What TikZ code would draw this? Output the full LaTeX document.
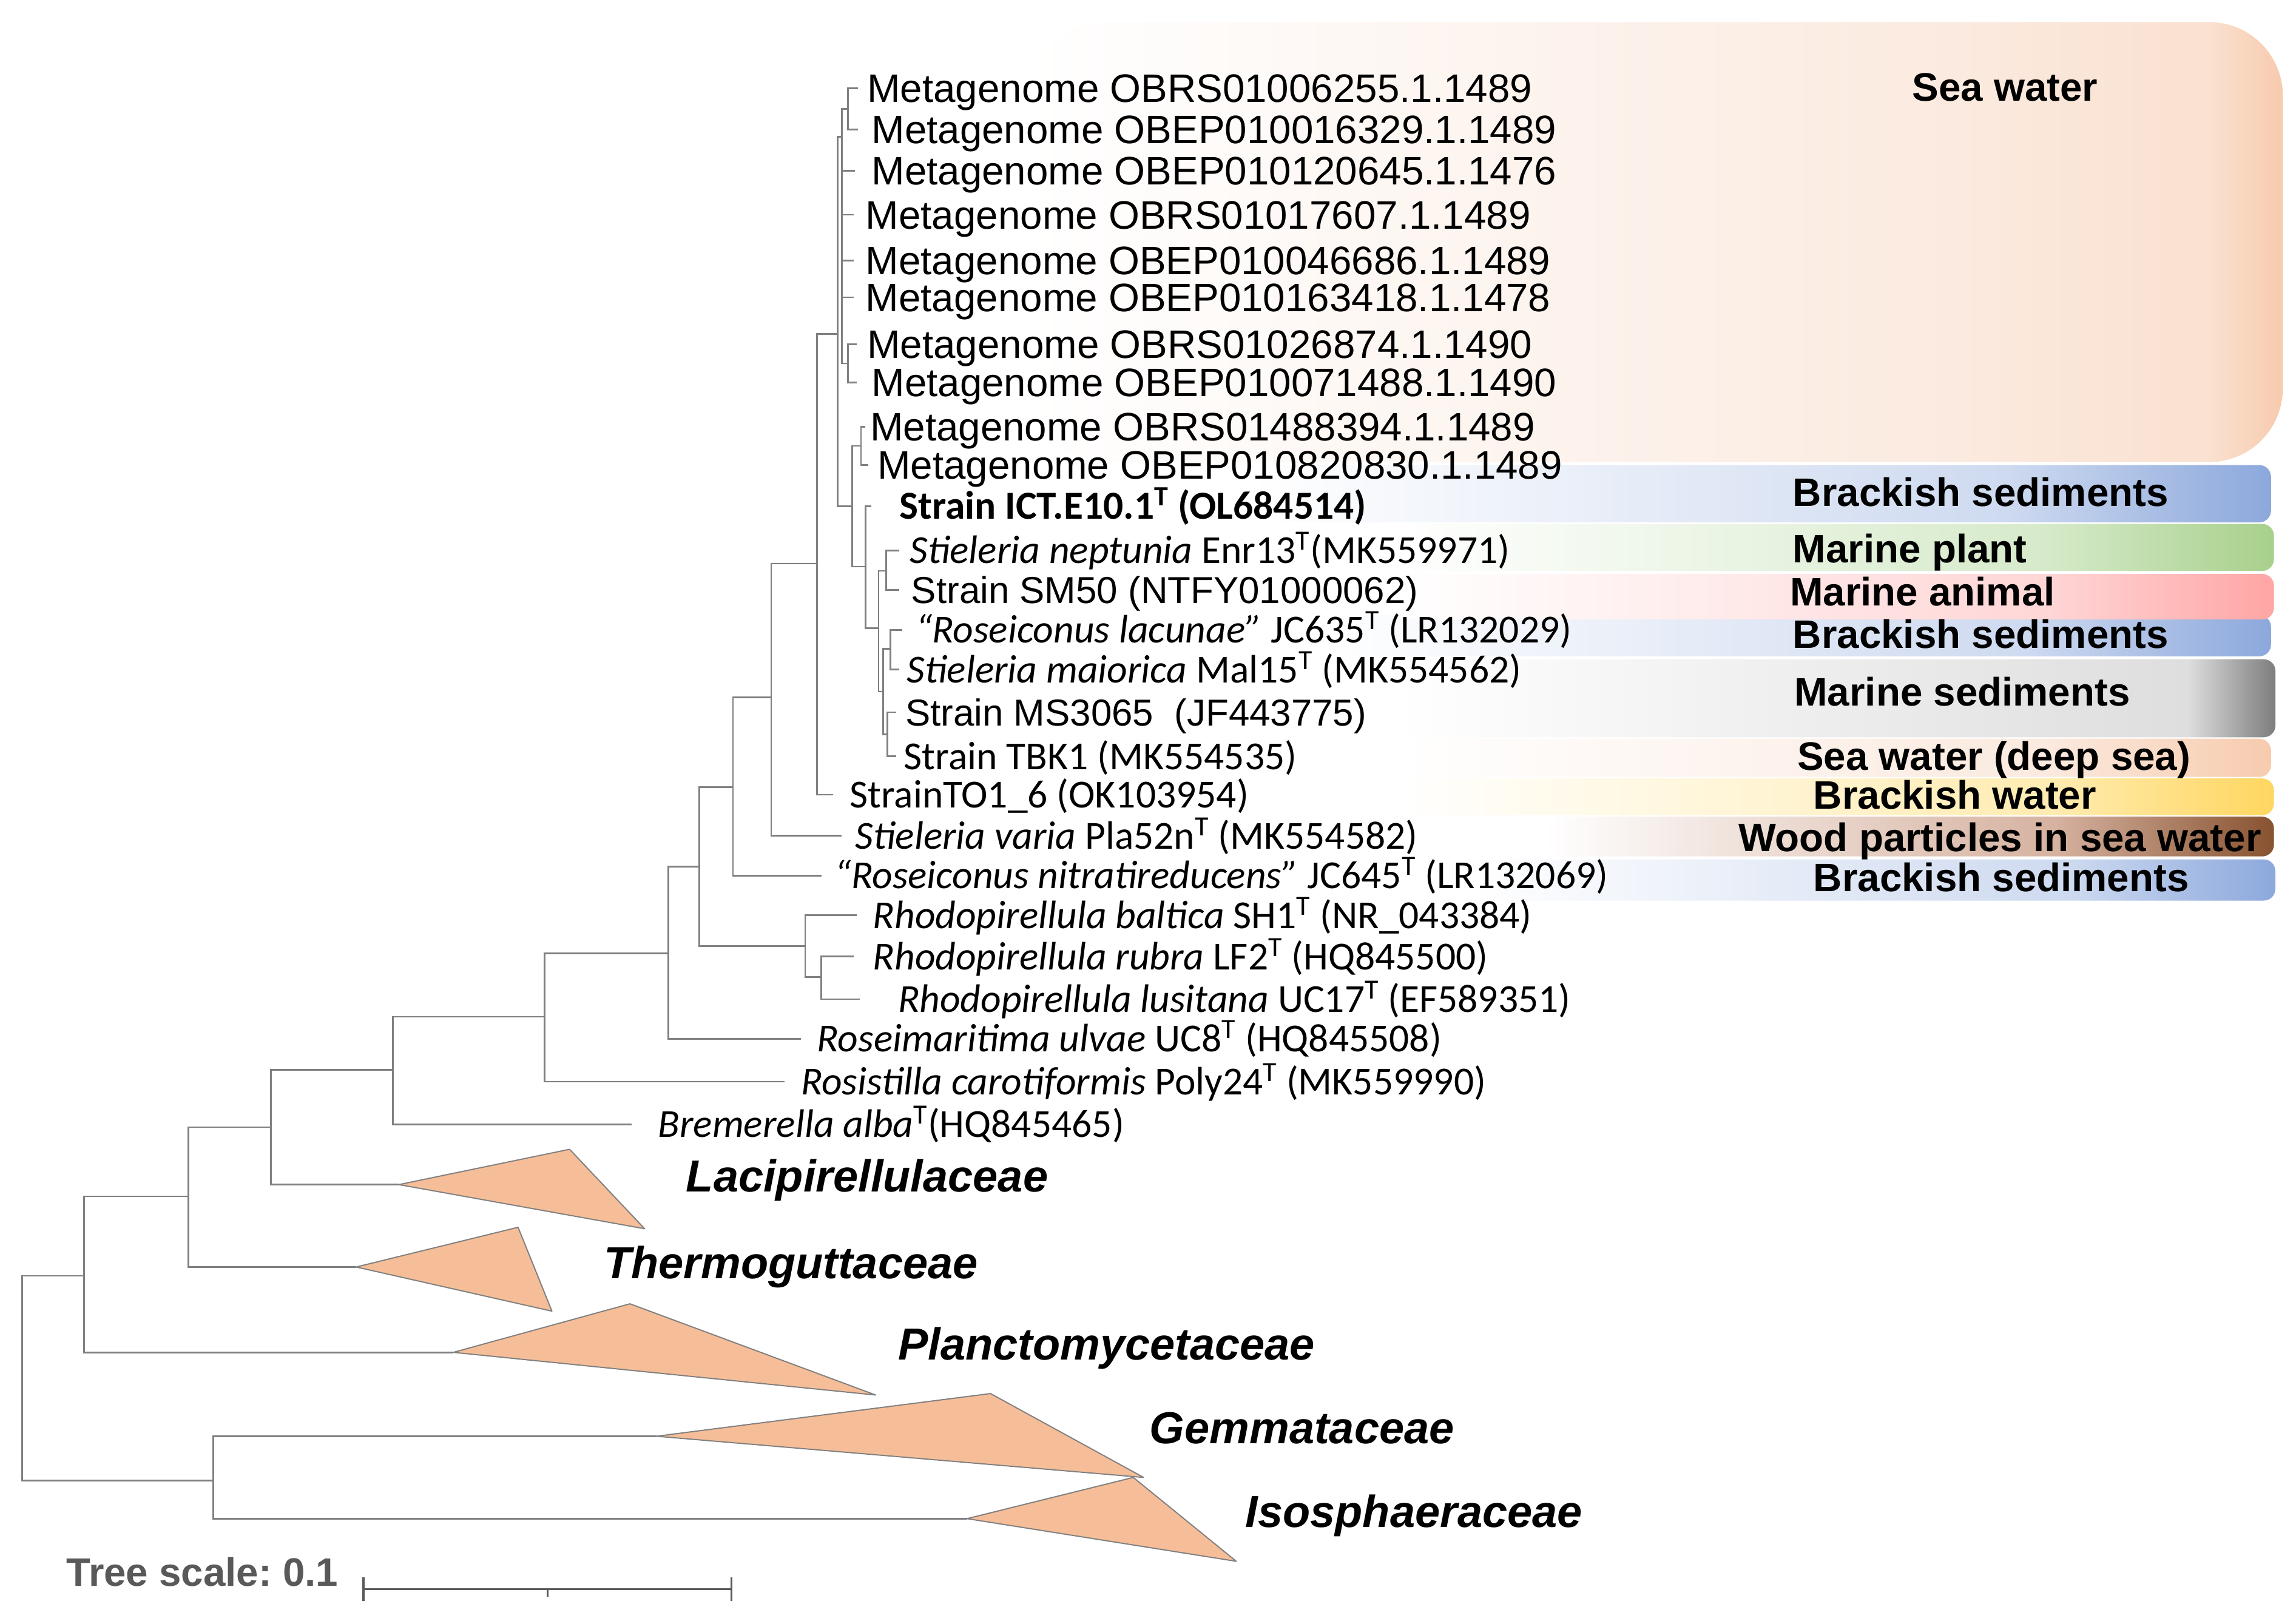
\documentclass[tikz,border=0pt]{standalone}
\usepackage{fontspec}
\setmainfont{Liberation Sans}
\newfontfamily\calibri{Carlito}
\usepackage{tikz}
\usetikzlibrary{positioning, calc}

\definecolor{branchgray}{RGB}{128,128,128}
\definecolor{cladefill}{RGB}{246,190,152}
\definecolor{scalegray}{RGB}{89,89,89}
\definecolor{seaMid}{RGB}{251,234,223}
\definecolor{seaEdge}{RGB}{247,203,174}
\definecolor{blueMid}{RGB}{206,218,240}
\definecolor{blueEdge}{RGB}{140,168,220}
\definecolor{greenMid}{RGB}{214,234,202}
\definecolor{greenEdge}{RGB}{168,208,140}
\definecolor{pinkMid}{RGB}{255,214,214}
\definecolor{pinkEdge}{RGB}{255,165,165}
\definecolor{grayMid}{RGB}{222,222,222}
\definecolor{grayEdge}{RGB}{125,125,125}
\definecolor{yellowMid}{RGB}{255,236,178}
\definecolor{yellowEdge}{RGB}{255,214,96}
\definecolor{brownMid}{RGB}{214,178,160}
\definecolor{brownEdge}{RGB}{135,82,48}

\pgfdeclarehorizontalshading{seaband}{100bp}{color(0bp)=(white); color(25bp)=(white); color(62bp)=(seaMid); color(72bp)=(seaMid!70!seaEdge); color(75bp)=(seaEdge); color(100bp)=(seaEdge)}
\pgfdeclarehorizontalshading{blueband}{100bp}{color(0bp)=(white); color(25bp)=(white); color(62bp)=(blueMid); color(75bp)=(blueEdge); color(100bp)=(blueEdge)}
\pgfdeclarehorizontalshading{greenband}{100bp}{color(0bp)=(white); color(25bp)=(white); color(62bp)=(greenMid); color(75bp)=(greenEdge); color(100bp)=(greenEdge)}
\pgfdeclarehorizontalshading{pinkband}{100bp}{color(0bp)=(white); color(25bp)=(white); color(62bp)=(pinkMid); color(75bp)=(pinkEdge); color(100bp)=(pinkEdge)}
\pgfdeclarehorizontalshading{grayband}{100bp}{color(0bp)=(white); color(25bp)=(white); color(70bp)=(grayMid); color(75bp)=(grayEdge); color(100bp)=(grayEdge)}
\pgfdeclarehorizontalshading{deepband}{100bp}{color(0bp)=(white); color(25bp)=(white); color(62bp)=(seaMid); color(75bp)=(seaEdge); color(100bp)=(seaEdge)}
\pgfdeclarehorizontalshading{yellowband}{100bp}{color(0bp)=(white); color(25bp)=(white); color(62bp)=(yellowMid); color(75bp)=(yellowEdge); color(100bp)=(yellowEdge)}
\pgfdeclarehorizontalshading{brownband}{100bp}{color(0bp)=(white); color(25bp)=(white); color(60bp)=(brownMid); color(75bp)=(brownEdge); color(100bp)=(brownEdge)}

\frenchspacing

\begin{document}
\begin{tikzpicture}[
  x=1pt, y=-1pt,
  branch/.style={draw=branchgray, line width=1.1pt},
  clade/.style={fill=cladefill, draw=gray, line width=0.8pt, line join=round},
  leaf/.style={anchor=base west, inner sep=0pt},
  meta/.style={leaf, yshift=-9.6pt, font=\fontsize{27}{30}\selectfont},
  ari/.style={leaf, yshift=-9.1pt, font=\fontsize{25.5}{30}\selectfont},
  cal/.style={leaf, yshift=-8.8pt, font=\calibri\fontsize{27}{30}\selectfont},
  calbold/.style={leaf, yshift=-8.8pt, font=\calibri\bfseries\fontsize{27}{30}\selectfont},
  family/.style={leaf, yshift=-7pt, font=\fontsize{30.5}{34}\selectfont\bfseries\itshape},
  habitat/.style={leaf, yshift=-9.7pt, font=\fontsize{27}{30}\selectfont\bfseries},
  band/.style={rounded corners=8pt},
  scalebar/.style={draw=scalegray, line width=1.4pt},
]
  \useasboundingbox (0,0) rectangle (1560,1101.5);

  % Habitat bands
  \shade[shading=seaband, rounded corners=50pt] (700,15) rectangle (1551,314);
  \shade[shading=blueband, band] (850,316) rectangle (1543,355);
  \shade[shading=greenband, band] (950,356) rectangle (1545,388);
  \shade[shading=blueband, band] (900,418) rectangle (1543,446);
  \shade[shading=pinkband, band] (950,390) rectangle (1545,421);
  \shade[shading=grayband, band] (950,448) rectangle (1546,501);
  \shade[shading=deepband, band] (950,502) rectangle (1543,528);
  \shade[shading=yellowband, band] (950,529) rectangle (1545,554);
  \shade[shading=brownband, band] (1050,555) rectangle (1545,582);
  \shade[shading=blueband, band] (1000,584) rectangle (1546,612);

  \node[habitat] (hSea) at (1299,59) {Sea water};
  \node[habitat] (hBs1) at (1218,334.5) {Brackish sediments};
  \node[habitat] (hPla) at (1218,372.5) {Marine plant};
  \node[habitat] (hAni) at (1216,402) {Marine animal};
  \node[habitat] (hBs2) at (1218,431) {Brackish sediments};
  \node[habitat] (hMse) at (1219,470) {Marine sediments};
  \node[habitat] (hDee) at (1221,513.5) {Sea water (deep sea)};
  \node[habitat] (hBwa) at (1232,540) {Brackish water};
  \node[habitat] (hWoo) at (1181,569) {Wood particles in sea water};
  \node[habitat] (hBs3) at (1232,596) {Brackish sediments};

  % Metagenome leaves
  \foreach \n/\tx/\lx/\y/\acc in {
    m1/583/589/60/OBRS01006255.1.1489,
    m2/583/592/88/OBEP010016329.1.1489,
    m3/581/592/116/OBEP010120645.1.1476,
    m4/580/588/146/OBRS01017607.1.1489,
    m5/580/588/177/OBEP010046686.1.1489,
    m6/580/588/202/OBEP010163418.1.1478,
    m7/582/589/234/OBRS01026874.1.1490,
    m8/582/592/260/OBEP010071488.1.1490,
    m9/588/591/290/OBRS01488394.1.1489,
    m10/590/596/316/OBEP010820830.1.1489} {
    \coordinate (t\n) at (\tx,\y);
    \node[meta] (\n) at (\lx,\y) {Metagenome \acc};
  }

  % Strain leaves
  \coordinate (tict) at (592,344);
  \node[calbold] (ict) at (611,344) {Strain ICT.E10.1\textsuperscript{T} (OL684514)};
  \coordinate (tnep) at (611,374);
  \node[cal] (nep) at (618,374) {{\itshape Stieleria neptunia} Enr13\textsuperscript{T}(MK559971)};
  \coordinate (tsm) at (611,401);
  \node[ari] (sm) at (619,401) {Strain SM50 (NTFY01000062)};
  \coordinate (tlac) at (613,428);
  \node[cal] (lac) at (622,428) {{\itshape “Roseiconus lacunae”} JC635\textsuperscript{T} (LR132029)};
  \coordinate (tmai) at (611,455);
  \node[cal] (mai) at (616,455) {{\itshape Stieleria maiorica} Mal15\textsuperscript{T} (MK554562)};
  \coordinate (tms) at (609,484);
  \node[ari] (ms) at (615,484) {Strain MS3065~~(JF443775)};
  \coordinate (ttbk) at (609,514);
  \node[cal] (tbk) at (614,514) {Strain TBK1 (MK554535)};
  \coordinate (tto1) at (566,540);
  \node[cal] (to1) at (577,540) {StrainTO1\_6 (OK103954)};
  \coordinate (tvar) at (572,568);
  \node[cal] (var) at (581,568) {{\itshape Stieleria varia} Pla52n\textsuperscript{T} (MK554582)};
  \coordinate (tnit) at (558,595);
  \node[cal] (nit) at (567,595) {{\itshape “Roseiconus nitratireducens”} JC645\textsuperscript{T} (LR132069)};
  \coordinate (tbal) at (582,622);
  \node[cal] (bal) at (593,622) {{\itshape Rhodopirellula baltica} SH1\textsuperscript{T} (NR\_043384)};
  \coordinate (trub) at (580,650);
  \node[cal] (rub) at (593,650) {{\itshape Rhodopirellula rubra} LF2\textsuperscript{T} (HQ845500)};
  \coordinate (tlus) at (584,679);
  \node[cal] (lus) at (610,679) {{\itshape Rhodopirellula lusitana} UC17\textsuperscript{T} (EF589351)};
  \coordinate (tulv) at (544,706);
  \node[cal] (ulv) at (555,706) {{\itshape Roseimaritima ulvae} UC8\textsuperscript{T} (HQ845508)};
  \coordinate (tcar) at (533,735);
  \node[cal] (car) at (544,735) {{\itshape Rosistilla carotiformis} Poly24\textsuperscript{T} (MK559990)};
  \coordinate (tbre) at (429,764);
  \node[cal] (bre) at (447,764) {{\itshape Bremerella alba}\textsuperscript{T}(HQ845465)};

  % Collapsed families
  \coordinate (cLac) at (271,805);
  \coordinate (cThe) at (242,861);
  \coordinate (cPla) at (308,919);
  \coordinate (cGem) at (446,976);
  \coordinate (cIso) at (657,1032);

  % Internal nodes
  \coordinate (nA) at (576,74);
  \coordinate (n78) at (576,247);
  \coordinate (nU) at (572,93);
  \coordinate (n910) at (585,303);
  \coordinate (nNS) at (602,388);
  \coordinate (nLM) at (605,441);
  \coordinate (nMT) at (603,499);
  \coordinate (nS3) at (600,470);
  \coordinate (nS1) at (597,427);
  \coordinate (nICT) at (588,385);
  \coordinate (nM2) at (579,344);
  \coordinate (n569) at (569,227);
  \coordinate (n555) at (555,383);
  \coordinate (n524) at (524,474);
  \coordinate (n498) at (498,535);
  \coordinate (n475) at (475,589);
  \coordinate (nRh) at (547,643);
  \coordinate (nRL) at (558,664);
  \coordinate (n454) at (454,648);
  \coordinate (n370) at (370,691);
  \coordinate (n267) at (267,727);
  \coordinate (n184) at (184,766);
  \coordinate (n128) at (128,813);
  \coordinate (n57) at (57,867);
  \coordinate (n145) at (145,1006);
  \coordinate (root) at (15,936);

  % Branches
  \foreach \p/\c in {nA/tm1, nA/tm2, nU/nA, nU/tm3, nU/tm4, nU/tm5, nU/tm6,
    nU/n78, n78/tm7, n78/tm8, n910/tm9, n910/tm10, nNS/tnep, nNS/tsm,
    nLM/tlac, nLM/tmai, nMT/tms, nMT/ttbk, nS3/nLM, nS3/nMT, nS1/nNS,
    nS1/nS3, nICT/tict, nICT/nS1, nM2/n910, nM2/nICT, n569/nU, n569/nM2,
    n555/n569, n555/tto1, n524/n555, n524/tvar, n498/n524, n498/tnit,
    nRL/trub, nRL/tlus, nRh/tbal, nRh/nRL, n475/n498, n475/nRh,
    n454/n475, n454/tulv, n370/n454, n370/tcar, n267/n370, n267/tbre,
    n184/n267, n184/cLac, n128/n184, n128/cThe, n57/n128, n57/cPla,
    n145/cGem, n145/cIso, root/n57, root/n145} {
    \draw[branch] (\p) |- (\c);
  }

  % Family triangles
  \draw[clade] (cLac) -- (387,781) -- (438,835) -- cycle;
  \draw[clade] (cThe) -- (352,834) -- (375,891) -- cycle;
  \draw[clade] (cPla) -- (428,886) -- (595,948) -- cycle;
  \draw[clade] (cGem) -- (673,947) -- (777,1004) -- cycle;
  \draw[clade] (cIso) -- (770,1004) -- (840,1061) -- cycle;

  \node[family] (fLac) at (466,803) {Lacipirellulaceae};
  \node[family] (fThe) at (410,862) {Thermoguttaceae};
  \node[family] (fPla) at (610,917) {Planctomycetaceae};
  \node[family] (fGem) at (781,974) {Gemmataceae};
  \node[family] (fIso) at (846,1031) {Isosphaeraceae};

  % Tree scale
  \node[habitat, text=scalegray] (scale) at (45,1068) {Tree scale: 0.1};
  \coordinate (sb0) at (247,1080);
  \coordinate (sb1) at (497,1080);
  \coordinate (sbm) at ($(sb0)!0.5!(sb1)$);
  \draw[scalebar] (sb0) -- (sb1);
  \draw[scalebar] ([yshift=8pt]sb0) -- ([yshift=-8pt]sb0);
  \draw[scalebar] ([yshift=8pt]sb1) -- ([yshift=-8pt]sb1);
  \draw[scalebar] (sbm) -- ([yshift=-5pt]sbm);
\end{tikzpicture}
\end{document}
